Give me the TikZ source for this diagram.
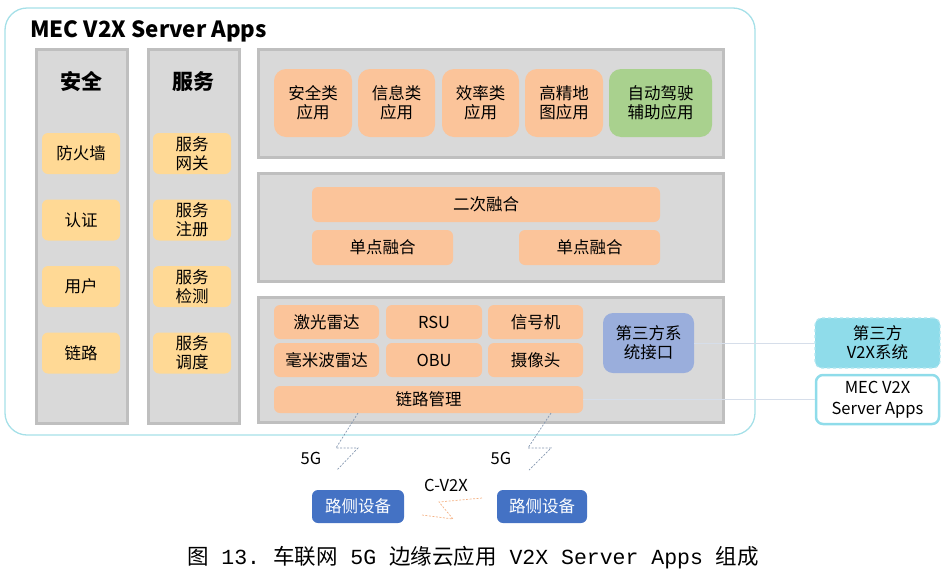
\documentclass[tikz,border=0pt]{standalone}
\usepackage{fontspec}
\setmainfont{Noto Sans CJK SC}
\newfontfamily\capmono{Liberation Mono}
\definecolor{outerc}{HTML}{A6E0E8}
\definecolor{panelf}{HTML}{D9D9D9}
\definecolor{paneld}{HTML}{BFBFBF}
\definecolor{yel}{HTML}{FFD995}
\definecolor{org}{HTML}{FBC49A}
\definecolor{grn}{HTML}{A9D18E}
\definecolor{ifc}{HTML}{9AAEDC}
\definecolor{cyn}{HTML}{8FDCEA}
\definecolor{dblue}{HTML}{4472C4}
\definecolor{linec}{HTML}{D6DEEA}
\definecolor{zz}{HTML}{8497B0}
\definecolor{zzo}{HTML}{F4B183}
\newcommand{\fsx}{\fontsize{16.5}{19}\selectfont}
\tikzset{
  panel/.style={fill=panelf,draw=paneld,line width=3pt,inner sep=0pt},
  ybox/.style={fill=yel,rounded corners=6pt,minimum width=78pt,minimum height=41pt,inner sep=0pt,align=center,font=\fsx},
  obox/.style={fill=org,rounded corners=6pt,inner sep=0pt,align=center,font=\fsx},
  appbox/.style={obox,rounded corners=12pt,minimum height=68pt},
  heading/.style={font=\fontsize{21}{24}\selectfont\bfseries},
  conn/.style={draw=linec,line width=0.8pt},
  zig/.style={draw=zz,line width=0.7pt,dash pattern=on 2pt off 1.5pt},
  zigo/.style={draw=zzo,line width=0.7pt,dash pattern=on 2pt off 1.5pt},
  rsbox/.style={fill=dblue,text=white,rounded corners=6pt,minimum height=33pt,inner sep=0pt,font=\fsx},
  lbl/.style={font=\fsx,inner sep=0pt}
}
\begin{document}
\begin{tikzpicture}[x=1pt,y=-1pt]
\useasboundingbox (0,0) rectangle (942,576);
% outer frame
\draw[outerc,line width=1.3pt,rounded corners=22pt] (5,8) rectangle (755,435);
\node[anchor=base west,inner sep=0pt,font=\fontsize{22.3}{26}\selectfont\bfseries] (title) at (30,37.3) {MEC V2X Server Apps};

% left columns
\node[panel,minimum width=91pt,minimum height=374pt] (colA) at (81.5,236) {};
\node[panel,minimum width=91pt,minimum height=374pt] (colB) at (193.5,236) {};
\node[heading] (hA) at (81.5,82) {安全};
\node[heading] (hB) at (193.5,82) {服务};
\node[ybox] (a1) at (81,153.5) {防火墙};
\node[ybox] (a2) at (81,220) {认证};
\node[ybox] (a3) at (81,286.5) {用户};
\node[ybox] (a4) at (81,353) {链路};
\node[ybox] (b1) at (192,153.5) {服务\\网关};
\node[ybox] (b2) at (192,220) {服务\\注册};
\node[ybox] (b3) at (192,286.5) {服务\\检测};
\node[ybox] (b4) at (192,353) {服务\\调度};

% top panel
\node[panel,minimum width=465pt,minimum height=108pt] (pTop) at (490.5,103) {};
\node[appbox,minimum width=78pt] (app1) at (313,103) {安全类\\应用};
\node[appbox,minimum width=77pt] (app2) at (396.5,103) {信息类\\应用};
\node[appbox,minimum width=77pt] (app3) at (480.5,103) {效率类\\应用};
\node[appbox,minimum width=78pt] (app4) at (564,103) {高精地\\图应用};
\node[appbox,fill=grn,minimum width=103pt] (app5) at (660.5,103) {自动驾驶\\辅助应用};

% middle panel
\node[panel,minimum width=465pt,minimum height=108pt] (pMid) at (490.5,227) {};
\node[obox,minimum width=348pt,minimum height=35pt] (fuse2) at (486,204.5) {二次融合};
\node[obox,minimum width=141pt,minimum height=35pt] (fuse1a) at (382.5,247.5) {单点融合};
\node[obox,minimum width=141pt,minimum height=35pt] (fuse1b) at (589.5,247.5) {单点融合};

% bottom panel
\node[panel,minimum width=465pt,minimum height=125pt] (pBot) at (490.5,359.5) {};
\node[obox,minimum width=105pt,minimum height=34pt] (d1) at (326.5,322) {激光雷达};
\node[obox,minimum width=96pt,minimum height=34pt] (d2) at (434,322) {RSU};
\node[obox,minimum width=95pt,minimum height=34pt] (d3) at (535.5,322) {信号机};
\node[obox,minimum width=105pt,minimum height=34pt] (d4) at (326.5,360) {毫米波雷达};
\node[obox,minimum width=96pt,minimum height=34pt] (d5) at (434,360) {OBU};
\node[obox,minimum width=95pt,minimum height=34pt] (d6) at (535.5,360) {摄像头};
\node[obox,minimum width=309pt,minimum height=27pt] (link) at (428.5,399.5) {链路管理};
\node[fill=ifc,rounded corners=10pt,minimum width=91pt,minimum height=60pt,inner sep=0pt,align=center,font=\fsx] (iface) at (648.5,343) {第三方系\\统接口};

% right boxes
\node[fill=cyn,draw=cyn!70!white,dashed,line width=1.2pt,rounded corners=7pt,minimum width=125pt,minimum height=50pt,inner sep=0pt,align=center,font=\fsx] (v2x) at (877.5,343) {第三方\\V2X系统};
\node[fill=white,draw=cyn,line width=2.5pt,rounded corners=7pt,minimum width=123pt,minimum height=49pt,inner sep=0pt,align=center,font=\fontsize{16.5}{21}\selectfont] (mec) at (877.5,399.5) {MEC V2X\\Server Apps};

\draw[conn] (iface.east) -- (v2x.west);
\draw[conn] (link.east) -- (mec.west);

% 5G zigzags
\coordinate (zl) at (358,413);
\coordinate (zr) at (551,413);
\draw[zig] (zl) -- (336,448) -- (358,448) -- (337,470);
\draw[zig] (zr) -- (528,448) -- (551,448) -- (529,470);
\node[lbl] (g5a) at (311,458) {5G};
\node[lbl] (g5b) at (501,458) {5G};

% roadside devices
\node[rsbox,minimum width=92pt] (rs1) at (358,506.5) {路侧设备};
\node[rsbox,minimum width=90pt] (rs2) at (542,506.5) {路侧设备};
\node[lbl] (cv2x) at (446,485) {C-V2X};
\draw[zigo] (482,498) -- (439,502) -- (453,519) -- (422,515);

% caption
\node[inner sep=0pt,font=\fontsize{21.5}{24}\selectfont] (cap) at (473,558) {图{\capmono\ 13.\ }车联网{\capmono\ 5G\ }边缘云应用{\capmono\ V2X Server Apps\ }组成};
\end{tikzpicture}
\end{document}
